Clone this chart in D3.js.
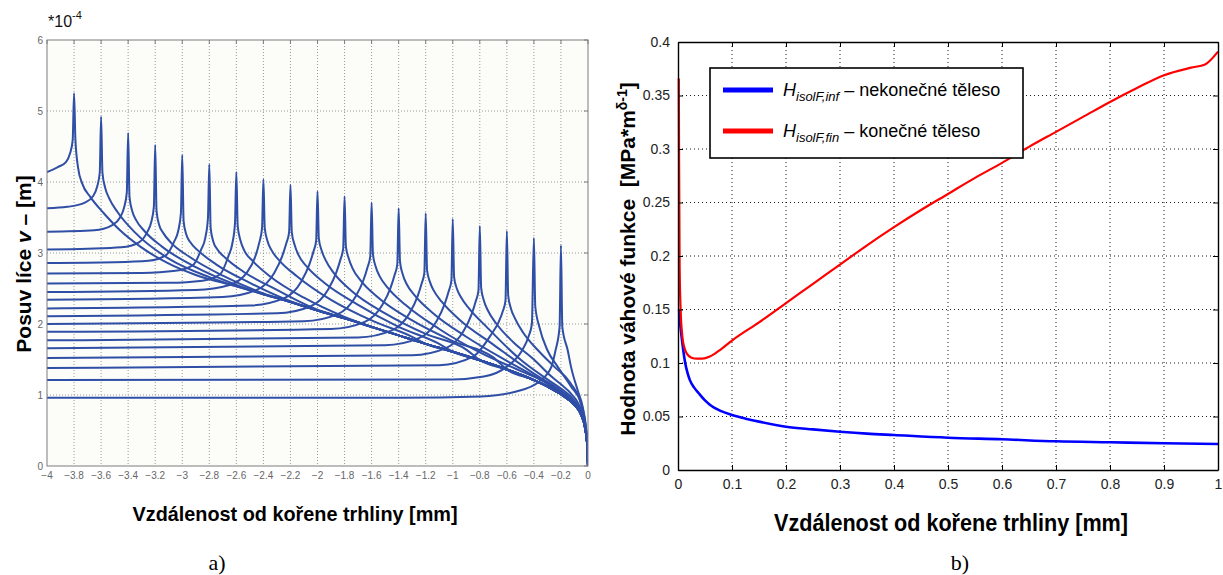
<!DOCTYPE html>
<html>
<head>
<meta charset="utf-8">
<script src="https://cdn.jsdelivr.net/npm/d3@7"></script>
<style>
  body { margin: 0; background: #fff; }
  svg { display: block; font-family: "Liberation Sans", Arial, sans-serif; }
</style>
</head>
<body>
<svg id="chart" width="1223" height="575"></svg>
<script>
// ---------- panel a: displacement curves (units of 1e-4 m) ----------
const xTicksA = [-4, -3.8, -3.6, -3.4, -3.2, -3, -2.8, -2.6, -2.4, -2.2, -2, -1.8, -1.6, -1.4, -1.2, -1, -0.8, -0.6, -0.4, -0.2, 0];
const yTicksA = [0, 1, 2, 3, 4, 5, 6];

// common lower band that the right-hand branches run into
const envelope = [[-2.6, 2.53], [-2.4, 2.42], [-2.2, 2.31], [-2, 2.19], [-1.8, 2.08], [-1.6, 1.96], [-1.4, 1.84],
  [-1.2, 1.72], [-1, 1.61], [-0.8, 1.49], [-0.6, 1.36], [-0.4, 1.21], [-0.3, 1.12], [-0.2, 1.01], [-0.1, 0.86],
  [-0.05, 0.72], [-0.02, 0.52], [-0.005, 0.28], [0, 0]];

// one curve per crack tip position (-3.8 ... -0.2)
const crackCurves = [
  [[-4, 4.14], [-3.92, 4.21], [-3.86, 4.28], [-3.83, 4.40], [-3.81, 4.59], [-3.8, 5.25], [-3.79, 4.6], [-3.77, 4.2], [-3.74, 3.98], [-3.68, 3.79], [-3.58, 3.56], [-3.46, 3.32], [-3.31, 3.09], [-3.11, 2.86], [-2.9, 2.69]],
  [[-4, 3.63], [-3.85, 3.65], [-3.72, 3.71], [-3.66, 3.80], [-3.63, 3.93], [-3.61, 4.13], [-3.6, 4.92], [-3.59, 4.13], [-3.57, 3.92], [-3.54, 3.77], [-3.48, 3.58], [-3.35, 3.29], [-3.1, 2.92], [-2.8, 2.66]],
  [[-4, 3.30], [-3.65, 3.32], [-3.52, 3.39], [-3.46, 3.50], [-3.43, 3.64], [-3.41, 3.85], [-3.4, 4.69], [-3.39, 3.79], [-3.37, 3.59], [-3.34, 3.46], [-3.28, 3.31], [-3.15, 3.09], [-2.9, 2.80], [-2.6, 2.55]],
  [[-4, 3.05], [-3.7, 3.06], [-3.45, 3.08], [-3.32, 3.15], [-3.26, 3.29], [-3.23, 3.43], [-3.21, 3.65], [-3.2, 4.52], [-3.19, 3.59], [-3.17, 3.39], [-3.14, 3.28], [-3.08, 3.14], [-2.95, 2.95], [-2.7, 2.68], [-2.4, 2.43]],
  [[-4, 2.86], [-3.5, 2.87], [-3.25, 2.89], [-3.12, 2.97], [-3.06, 3.16], [-3.03, 3.31], [-3.01, 3.56], [-3, 4.38], [-2.99, 3.45], [-2.97, 3.26], [-2.94, 3.15], [-2.88, 3.03], [-2.75, 2.84], [-2.5, 2.58], [-2.2, 2.32]],
  [[-4, 2.71], [-3.3, 2.72], [-3.05, 2.75], [-2.92, 2.83], [-2.86, 3.05], [-2.83, 3.21], [-2.81, 3.49], [-2.8, 4.25], [-2.79, 3.35], [-2.77, 3.16], [-2.74, 3.05], [-2.68, 2.93], [-2.55, 2.74], [-2.3, 2.48], [-2, 2.20]],
  [[-4, 2.57], [-3.1, 2.58], [-2.85, 2.61], [-2.72, 2.70], [-2.66, 2.95], [-2.63, 3.13], [-2.61, 3.42], [-2.6, 4.14], [-2.59, 3.38], [-2.57, 3.18], [-2.54, 3.03], [-2.48, 2.89], [-2.35, 2.67], [-2.1, 2.37], [-1.8, 2.10]],
  [[-4, 2.45], [-2.9, 2.48], [-2.65, 2.55], [-2.52, 2.73], [-2.46, 2.95], [-2.43, 3.15], [-2.41, 3.35], [-2.4, 4.04], [-2.39, 3.35], [-2.37, 3.17], [-2.34, 3.04], [-2.28, 2.89], [-2.15, 2.67], [-1.9, 2.34], [-1.6, 2.05], [-1.3, 1.82]],
  [[-4, 2.34], [-2.7, 2.38], [-2.45, 2.48], [-2.32, 2.72], [-2.26, 2.96], [-2.23, 3.14], [-2.21, 3.29], [-2.2, 3.96], [-2.19, 3.29], [-2.17, 3.12], [-2.14, 2.97], [-2.08, 2.81], [-1.95, 2.58], [-1.7, 2.27], [-1.4, 1.96], [-1.1, 1.72]],
  [[-4, 2.22], [-2.5, 2.26], [-2.25, 2.36], [-2.12, 2.60], [-2.06, 2.84], [-2.03, 3.02], [-2.01, 3.17], [-2, 3.87], [-1.99, 3.20], [-1.97, 3.04], [-1.94, 2.90], [-1.88, 2.72], [-1.75, 2.47], [-1.5, 2.15], [-1.2, 1.86], [-0.9, 1.64]],
  [[-4, 2.11], [-2.3, 2.15], [-2.05, 2.25], [-1.92, 2.49], [-1.86, 2.73], [-1.83, 2.91], [-1.81, 3.06], [-1.8, 3.80], [-1.79, 3.09], [-1.77, 2.93], [-1.74, 2.78], [-1.68, 2.61], [-1.55, 2.37], [-1.3, 2.05], [-1, 1.76], [-0.7, 1.53]],
  [[-4, 2.00], [-2.1, 2.04], [-1.85, 2.14], [-1.72, 2.38], [-1.66, 2.62], [-1.63, 2.80], [-1.61, 2.95], [-1.6, 3.71], [-1.59, 2.98], [-1.57, 2.81], [-1.54, 2.67], [-1.48, 2.51], [-1.35, 2.27], [-1.1, 1.93], [-0.8, 1.60], [-0.5, 1.34], [-0.3, 1.16]],
  [[-4, 1.89], [-1.9, 1.93], [-1.65, 2.03], [-1.52, 2.27], [-1.46, 2.51], [-1.43, 2.69], [-1.41, 2.84], [-1.4, 3.63], [-1.39, 2.88], [-1.37, 2.70], [-1.34, 2.56], [-1.28, 2.40], [-1.15, 2.16], [-0.9, 1.82], [-0.6, 1.48], [-0.4, 1.27], [-0.2, 1.04], [-0.1, 0.88]],
  [[-4, 1.77], [-1.7, 1.81], [-1.45, 1.91], [-1.32, 2.15], [-1.26, 2.39], [-1.23, 2.57], [-1.21, 2.72], [-1.2, 3.56], [-1.19, 2.76], [-1.17, 2.60], [-1.14, 2.47], [-1.08, 2.31], [-0.95, 2.06], [-0.7, 1.71], [-0.4, 1.30], [-0.2, 1.06], [-0.1, 0.89]],
  [[-4, 1.66], [-1.5, 1.70], [-1.25, 1.80], [-1.12, 2.04], [-1.06, 2.28], [-1.03, 2.46], [-1.01, 2.61], [-1, 3.48], [-0.99, 2.66], [-0.97, 2.50], [-0.94, 2.38], [-0.88, 2.22], [-0.75, 1.96], [-0.5, 1.50], [-0.3, 1.22], [-0.2, 1.09], [-0.1, 0.92], [-0.05, 0.76]],
  [[-4, 1.52], [-1.3, 1.56], [-1.05, 1.66], [-0.92, 1.90], [-0.86, 2.14], [-0.83, 2.32], [-0.81, 2.47], [-0.8, 3.38], [-0.79, 2.51], [-0.77, 2.33], [-0.74, 2.19], [-0.68, 2.01], [-0.55, 1.74], [-0.4, 1.50], [-0.27, 1.26], [-0.2, 1.15], [-0.126, 1.02], [-0.05, 0.78], [-0.02, 0.55], [-0.005, 0.29], [0, 0]],
  [[-4, 1.38], [-1.1, 1.42], [-0.85, 1.54], [-0.72, 1.84], [-0.66, 2.03], [-0.63, 2.18], [-0.61, 2.33], [-0.6, 3.31], [-0.59, 2.40], [-0.57, 2.22], [-0.54, 2.08], [-0.48, 1.88], [-0.37, 1.63], [-0.25, 1.40], [-0.13, 1.17], [-0.05, 0.86], [-0.02, 0.58], [-0.005, 0.30], [0, 0]],
  [[-4, 1.21], [-1, 1.22], [-0.77, 1.26], [-0.6, 1.40], [-0.49, 1.62], [-0.44, 1.82], [-0.415, 2.0], [-0.4, 3.21], [-0.39, 2.25], [-0.36, 1.96], [-0.3, 1.63], [-0.225, 1.40], [-0.126, 1.12], [-0.05, 0.88], [-0.02, 0.60], [-0.005, 0.31], [0, 0]],
  [[-4, 0.96], [-1.4, 0.96], [-0.79, 0.98], [-0.53, 1.05], [-0.36, 1.19], [-0.27, 1.40], [-0.24, 1.63], [-0.21, 1.96], [-0.2, 3.11], [-0.19, 1.96], [-0.15, 1.63], [-0.126, 1.40], [-0.077, 1.07], [-0.04, 0.84], [-0.015, 0.55], [-0.004, 0.30], [0, 0]]
];

// ---------- panel b: weight functions ----------
const xTicksB = [0, 0.1, 0.2, 0.3, 0.4, 0.5, 0.6, 0.7, 0.8, 0.9, 1];
const yTicksB = [0, 0.05, 0.1, 0.15, 0.2, 0.25, 0.3, 0.35, 0.4];

const infX = [0.002, 0.003, 0.005, 0.007, 0.01, 0.013, 0.018, 0.022, 0.03, 0.038, 0.05, 0.059, 0.08, 0.1, 0.125, 0.15, 0.2, 0.25, 0.3, 0.35, 0.4, 0.5, 0.6, 0.7, 0.8, 0.9, 1];
const infY = [0.15, 0.142, 0.132, 0.123, 0.111, 0.101, 0.09, 0.084, 0.077, 0.072, 0.065, 0.061, 0.055, 0.0514, 0.048, 0.0452, 0.0405, 0.038, 0.0358, 0.034, 0.0327, 0.0302, 0.0287, 0.0268, 0.0259, 0.025, 0.0243];

const finX = [0.0015, 0.002, 0.003, 0.005, 0.008, 0.012, 0.016, 0.025, 0.035, 0.045, 0.059, 0.08, 0.1, 0.15, 0.2, 0.25, 0.3, 0.35, 0.4, 0.45, 0.5, 0.55, 0.6, 0.65, 0.7, 0.75, 0.8, 0.85, 0.9, 0.95, 0.976, 1];
const finY = [0.366, 0.29, 0.19, 0.148, 0.125, 0.114, 0.109, 0.105, 0.104, 0.104, 0.106, 0.113, 0.121, 0.138, 0.156, 0.174, 0.192, 0.21, 0.227, 0.243, 0.258, 0.273, 0.287, 0.302, 0.316, 0.330, 0.344, 0.357, 0.369, 0.376, 0.379, 0.391];

const svg = d3.select("#chart");

// =============== panel a ===============
const xA = d3.scaleLinear().domain([-4, 0]).range([47, 588]);
const yA = d3.scaleLinear().domain([0, 6]).range([466, 40]);
const gA = svg.append("g");

gA.append("rect")
  .attr("x", xA(-4)).attr("y", yA(6))
  .attr("width", xA(0) - xA(-4)).attr("height", yA(0) - yA(6))
  .attr("fill", "#fcfcf8");

gA.selectAll("line.vgrid")
  .data(xTicksA.slice(1, -1))
  .enter().append("line")
  .attr("class", "vgrid")
  .attr("x1", d => xA(d)).attr("x2", d => xA(d))
  .attr("y1", yA(6)).attr("y2", yA(0))
  .attr("stroke", "#9a9a9a").attr("stroke-dasharray", "1,2");

gA.selectAll("line.hgrid")
  .data(yTicksA.slice(1, -1))
  .enter().append("line")
  .attr("class", "hgrid")
  .attr("x1", xA(-4)).attr("x2", xA(0))
  .attr("y1", d => yA(d)).attr("y2", d => yA(d))
  .attr("stroke", "#9a9a9a").attr("stroke-dasharray", "1,2");

svg.append("clipPath").attr("id", "clipA")
  .append("rect")
  .attr("x", xA(-4)).attr("y", yA(6))
  .attr("width", xA(0) - xA(-4)).attr("height", yA(0) - yA(6));

const lineA = d3.line()
  .x(d => xA(d[0]))
  .y(d => yA(d[1]))
  .curve(d3.curveMonotoneX);

// after merging, a branch follows the common band to the origin
const withEnvelope = pts => pts.concat(envelope.filter(p => p[0] > pts[pts.length - 1][0]));

gA.append("g")
  .attr("clip-path", "url(#clipA)")
  .selectAll("path")
  .data(crackCurves)
  .enter().append("path")
  .attr("d", d => lineA(withEnvelope(d)))
  .attr("fill", "none")
  .attr("stroke", "#2f4ea6")
  .attr("stroke-width", 2)
  .attr("stroke-linejoin", "round");

gA.append("rect")
  .attr("x", xA(-4)).attr("y", yA(6))
  .attr("width", xA(0) - xA(-4)).attr("height", yA(0) - yA(6))
  .attr("fill", "none").attr("stroke", "#7d7d7d");

// small inward ticks on top and right
gA.selectAll("line.tt").data(xTicksA).enter().append("line")
  .attr("x1", d => xA(d)).attr("x2", d => xA(d))
  .attr("y1", yA(6)).attr("y2", yA(6) + 4).attr("stroke", "#7d7d7d");
gA.selectAll("line.rt").data(yTicksA).enter().append("line")
  .attr("x1", xA(0) - 4).attr("x2", xA(0))
  .attr("y1", d => yA(d)).attr("y2", d => yA(d)).attr("stroke", "#7d7d7d");

gA.selectAll("text.xl")
  .data(xTicksA)
  .enter().append("text")
  .attr("x", d => xA(d)).attr("y", 479)
  .attr("text-anchor", "middle")
  .attr("font-size", 10).attr("fill", "#666")
  .text(d => d3.format("~g")(d));

gA.selectAll("text.yl")
  .data(yTicksA)
  .enter().append("text")
  .attr("x", 43).attr("y", d => yA(d) + 3.5)
  .attr("text-anchor", "end")
  .attr("font-size", 10).attr("fill", "#666")
  .text(d => d);

const expA = gA.append("text").attr("x", 48).attr("y", 27).attr("font-size", 16).attr("fill", "#111");
expA.append("tspan").text("*10");
expA.append("tspan").attr("dy", -8).attr("font-size", 11).text("-4");

const yTitleA = gA.append("text")
  .attr("transform", "translate(31, 264) rotate(-90)")
  .attr("text-anchor", "middle")
  .attr("font-size", 21).attr("font-weight", "bold").attr("fill", "#000");
yTitleA.append("tspan").text("Posuv líce ");
yTitleA.append("tspan").attr("font-style", "italic").text("v");
yTitleA.append("tspan").text(" – [m]");

gA.append("text")
  .attr("x", 295).attr("y", 521)
  .attr("text-anchor", "middle")
  .attr("font-size", 21).attr("font-weight", "bold")
  .attr("textLength", 325).attr("lengthAdjust", "spacingAndGlyphs")
  .text("Vzdálenost od kořene trhliny [mm]");

gA.append("text")
  .attr("x", 217).attr("y", 570)
  .attr("text-anchor", "middle")
  .attr("font-family", "'Liberation Serif', 'Times New Roman', serif")
  .attr("font-size", 22)
  .text("a)");

// =============== panel b ===============
const xB = d3.scaleLinear().domain([0, 1]).range([678, 1218]);
const yB = d3.scaleLinear().domain([0, 0.4]).range([470, 42]);
const gB = svg.append("g");

gB.selectAll("line.vgrid")
  .data(xTicksB.slice(1, -1))
  .enter().append("line")
  .attr("x1", d => xB(d)).attr("x2", d => xB(d))
  .attr("y1", yB(0.4)).attr("y2", yB(0))
  .attr("stroke", "#000").attr("stroke-width", 0.9).attr("stroke-dasharray", "1,3");

gB.selectAll("line.hgrid")
  .data(yTicksB.slice(1, -1))
  .enter().append("line")
  .attr("x1", xB(0)).attr("x2", xB(1))
  .attr("y1", d => yB(d)).attr("y2", d => yB(d))
  .attr("stroke", "#000").attr("stroke-width", 0.9).attr("stroke-dasharray", "1,3");

const lineB = d3.line()
  .x(d => xB(d[0]))
  .y(d => yB(d[1]))
  .curve(d3.curveMonotoneX);

gB.append("path")
  .datum(infX.map((x, i) => [x, infY[i]]))
  .attr("d", lineB)
  .attr("fill", "none").attr("stroke", "#0000ff").attr("stroke-width", 2.6);

gB.append("path")
  .datum(finX.map((x, i) => [x, finY[i]]))
  .attr("d", lineB)
  .attr("fill", "none").attr("stroke", "#ff0000").attr("stroke-width", 2.2);

const axB = gB.append("g");
axB.append("g")
  .attr("transform", `translate(0, ${yB(0)})`)
  .call(d3.axisBottom(xB).tickValues(xTicksB).tickFormat(d3.format("~g")).tickSizeInner(-5).tickSizeOuter(0).tickPadding(9));
axB.append("g")
  .attr("transform", `translate(${xB(0)}, 0)`)
  .call(d3.axisLeft(yB).tickValues(yTicksB).tickFormat(d3.format("~g")).tickSizeInner(-5).tickSizeOuter(0).tickPadding(8));
axB.append("g")
  .attr("transform", `translate(0, ${yB(0.4)})`)
  .call(d3.axisTop(xB).tickValues(xTicksB).tickFormat("").tickSizeInner(-5).tickSizeOuter(0));
axB.append("g")
  .attr("transform", `translate(${xB(1)}, 0)`)
  .call(d3.axisRight(yB).tickValues(yTicksB).tickFormat("").tickSizeInner(-5).tickSizeOuter(0));
axB.selectAll(".domain").attr("stroke", "#000").attr("stroke-width", 1.4);
axB.selectAll(".tick text")
  .attr("fill", "#222")
  .attr("font-size", 14)
  .attr("font-family", "'Liberation Sans', Arial, sans-serif");

// legend
const legend = gB.append("g");
legend.append("rect")
  .attr("x", 710).attr("y", 68).attr("width", 313).attr("height", 90)
  .attr("fill", "#fff").attr("stroke", "#000").attr("stroke-width", 1.6);

const legendItems = [
  { color: "#0000ff", sub: "isolF,inf", label: " – nekonečné těleso" },
  { color: "#ff0000", sub: "isolF,fin", label: " – konečné těleso" }
];
legendItems.forEach((d, i) => {
  const y = 90 + i * 41;
  legend.append("line")
    .attr("x1", 723).attr("x2", 773).attr("y1", y).attr("y2", y)
    .attr("stroke", d.color).attr("stroke-width", 5);
  const t = legend.append("text").attr("x", 783).attr("y", y + 6).attr("font-size", 18).attr("fill", "#000");
  t.append("tspan").attr("font-style", "italic").text("H");
  t.append("tspan").attr("font-style", "italic").attr("font-size", 13).attr("dy", 5).text(d.sub);
  t.append("tspan").attr("dy", -5).text(d.label);
});

const yTitleB = gB.append("text")
  .attr("transform", "translate(635, 259) rotate(-90)")
  .attr("text-anchor", "middle")
  .attr("font-size", 21).attr("font-weight", "bold").attr("fill", "#000")
  .attr("xml:space", "preserve");
yTitleB.append("tspan").text("Hodnota váhové funkce  [MPa*m");
yTitleB.append("tspan").attr("dy", -8).attr("font-size", 14).text("δ-1");
yTitleB.append("tspan").attr("dy", 8).text("]");

gB.append("text")
  .attr("x", 951).attr("y", 531)
  .attr("text-anchor", "middle")
  .attr("font-size", 23).attr("font-weight", "bold")
  .attr("textLength", 354).attr("lengthAdjust", "spacingAndGlyphs")
  .text("Vzdálenost od kořene trhliny [mm]");

gB.append("text")
  .attr("x", 960).attr("y", 570)
  .attr("text-anchor", "middle")
  .attr("font-family", "'Liberation Serif', 'Times New Roman', serif")
  .attr("font-size", 22)
  .text("b)");
</script>
</body>
</html>
